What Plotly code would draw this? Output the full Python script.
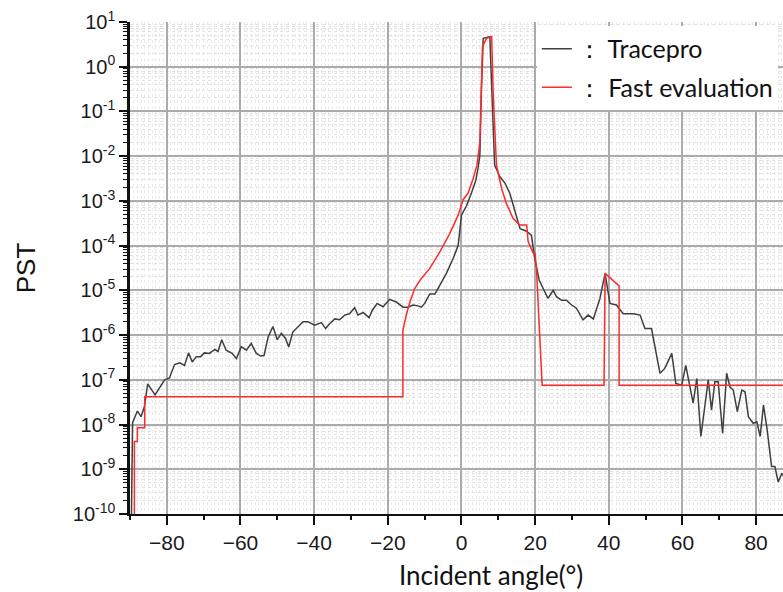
import plotly.graph_objects as go

# ---- Data ----
tracepro_angle = [
    -89.6, -89.3, -88.0, -87.0, -86.1, -85.2, -83.2, -80.6, -79.3, -77.9,
    -76.5, -75.2, -74.1, -73.1, -72.0, -70.8, -69.8, -68.4, -67.0, -66.1,
    -65.1, -63.9, -62.3, -61.1, -59.8, -58.4, -57.1, -55.7, -54.5, -53.6,
    -52.5, -51.2, -50.0, -48.9, -47.8, -46.9, -45.8, -44.4, -43.0, -41.7,
    -39.9, -38.0, -36.9, -35.8, -34.4, -33.1, -31.7, -30.4, -29.0, -28.1,
    -26.7, -25.1, -24.2, -22.9, -21.3, -19.5, -17.7, -15.9, -14.5, -13.2,
    -11.8, -10.9, -10.0, -8.6, -7.2, -5.9, -4.1, -2.3, -0.9, 0.0,
    1.4, 2.7, 3.9, 4.5, 5.0, 5.4, 5.9, 7.7, 8.2, 9.0,
    10.4, 11.8, 13.1, 14.5, 15.9, 17.7, 19.0, 19.9, 21.1, 22.6,
    23.5, 24.9, 25.8, 27.2, 28.5, 29.9, 31.2, 33.0, 34.4, 35.8,
    37.6, 39.0, 40.3, 42.1, 43.9, 46.6, 48.5, 49.8, 51.6, 53.9,
    55.2, 57.1, 58.2, 59.8, 60.9, 62.9, 63.9, 65.0, 67.0, 67.9,
    68.8, 69.7, 70.9, 72.0, 72.9, 73.8, 74.9, 76.1, 77.0, 77.9,
    79.2, 80.2, 81.1, 82.0, 83.0, 84.2, 85.1, 86.0, 87.0, 88.0,
]
tracepro_pst = [
    1e-10, 1.1e-8, 2.0e-8, 1.5e-8, 2.5e-8, 8.1e-8, 4.6e-8, 1.0e-7, 1.1e-7, 2.2e-7,
    2.4e-7, 2.1e-7, 4.0e-7, 2.5e-7, 3.3e-7, 3.3e-7, 4.0e-7, 3.9e-7, 4.8e-7, 4.3e-7,
    7.9e-7, 4.6e-7, 3.9e-7, 3.0e-7, 5.5e-7, 4.6e-7, 6.5e-7, 3.9e-7, 3.4e-7, 3.5e-7,
    9.1e-7, 1.55e-6, 7.9e-7, 1.1e-6, 8.5e-7, 5.4e-7, 1.17e-6, 1.55e-6, 2.0e-6, 2.0e-6,
    1.66e-6, 1.9e-6, 1.4e-6, 1.8e-6, 2.3e-6, 2.2e-6, 2.8e-6, 3.0e-6, 4.1e-6, 2.8e-6,
    3.2e-6, 2.45e-6, 3.6e-6, 5.1e-6, 4.3e-6, 6.3e-6, 5.5e-6, 4.2e-6, 4.2e-6, 4.7e-6,
    4.5e-6, 4.2e-6, 5.1e-6, 8.3e-6, 8.3e-6, 1.3e-5, 2.4e-5, 5.1e-5, 1.0e-4, 4.8e-4,
    7.9e-4, 1.5e-3, 2.9e-3, 5.4e-3, 1.05e-2, 0.28, 4.3, 4.7, 0.28, 6.3e-3,
    3.5e-3, 2.5e-3, 1.5e-3, 5.8e-4, 2.4e-4, 2.1e-4, 1.7e-4, 5.1e-5, 1.7e-5, 9.3e-6,
    6.6e-6, 1.0e-5, 7.2e-6, 6.0e-6, 6.0e-6, 4.7e-6, 4.0e-6, 2.2e-6, 2.8e-6, 2.3e-6,
    6.6e-6, 2.4e-5, 5.1e-6, 4.7e-6, 3.0e-6, 3.0e-6, 2.8e-6, 1.4e-6, 1.4e-6, 1.4e-7,
    1.8e-7, 3.9e-7, 8.3e-8, 7.6e-8, 2.1e-7, 3.0e-8, 1.07e-7, 5.4e-9, 1.0e-7, 2.1e-8,
    9.1e-8, 9.1e-8, 6.3e-9, 1.4e-7, 6.9e-8, 5.9e-8, 1.95e-8, 5.9e-8, 5.4e-8, 1.5e-8,
    1.07e-8, 1.15e-8, 5.4e-9, 2.75e-8, 7.6e-9, 1.15e-9, 1.15e-9, 5.2e-10, 8.1e-10, 6.0e-10,
]

fast_angle = [
    -88.8, -88.8, -88.0, -88.0, -86.0, -86.0, -15.9, -15.9, -14.9, -14.0,
    -12.7, -11.0, -8.6, -5.9, -3.2, -0.9, 0.4, 1.8, 3.2, 4.2,
    5.0, 5.4, 5.7, 6.8, 8.2, 8.6, 9.5, 10.9, 12.2, 14.0,
    15.8, 17.7, 18.1, 19.5, 20.0, 20.4, 20.8, 21.3, 21.9, 38.7,
    38.8, 39.0, 42.8, 42.8, 90.0,
]
fast_pst = [
    1e-11, 4.2e-9, 4.2e-9, 8.5e-9, 8.5e-9, 4.2e-8, 4.2e-8, 1.3e-6, 3.0e-6, 5.5e-6,
    1.1e-5, 1.8e-5, 3.1e-5, 7.2e-5, 1.86e-4, 4.8e-4, 1.05e-3, 1.5e-3, 3.2e-3, 6.3e-3,
    2.1e-2, 0.28, 2.8, 4.3, 4.7, 0.28, 6.3e-3, 1.9e-3, 8.7e-4, 4.1e-4,
    2.9e-4, 2.9e-4, 1.23e-4, 6.8e-5, 6.8e-5, 2.6e-5, 4.7e-6, 7.8e-7, 7.6e-8, 7.6e-8,
    1.0e-6, 2.4e-5, 1.26e-5, 7.6e-8, 7.6e-8,
]

x_tick_vals = [-80, -60, -40, -20, 0, 20, 40, 60, 80]
y_exponents = list(range(-10, 2))
y_tick_vals = [10.0 ** e for e in y_exponents]
y_tick_text = [f"10<sup>{e}</sup>" for e in y_exponents]

# ---- Figure ----
fig = go.Figure()
fig.add_trace(go.Scatter(
    x=tracepro_angle, y=tracepro_pst, mode="lines",
    name="： Tracepro", legendgroup="a",
    line=dict(color="#3f3f3f", width=1.5),
))
fig.add_trace(go.Scatter(
    x=fast_angle, y=fast_pst, mode="lines",
    name="： Fast evaluation", legendgroup="b",
    line=dict(color="#ff2a2a", width=1.5),
))
# invisible helper trace for the secondary (10-degree tick) axis
fig.add_trace(go.Scatter(
    x=[tracepro_angle[0]], y=[tracepro_pst[1]], xaxis="x2", mode="lines",
    showlegend=False, hoverinfo="skip", line=dict(color="rgba(0,0,0,0)"),
))

tick_font = dict(family="Liberation Sans, Arial, sans-serif", size=20, color="#1a1a1a")
x_range = [-90, 87.3]

fig.update_layout(
    width=783, height=592,
    margin=dict(l=130, r=0, t=22, b=78),
    paper_bgcolor="white", plot_bgcolor="white",
    showlegend=True,
    legend=dict(
        x=0.623, y=0.992, xanchor="left", yanchor="top",
        bgcolor="white", borderwidth=0,
        font=dict(family="Lato, sans-serif", size=25, color="#111111"),
        itemwidth=30, traceorder="grouped", tracegroupgap=3,
    ),
    xaxis=dict(
        range=x_range, tickvals=x_tick_vals,
        ticks="outside", ticklen=9, tickwidth=1.5, tickcolor="#111111",
        tickfont=dict(family="Liberation Sans, Arial, sans-serif", size=21, color="#1a1a1a"),
        showline=True, linecolor="#111111", linewidth=2,
        showgrid=True, gridcolor="#ababab", gridwidth=1.5,
        zeroline=False,
        minor=dict(dtick=1, ticks="", showgrid=True, gridcolor="#eaeaea",
                   griddash="dot", gridwidth=1),
    ),
    xaxis2=dict(
        range=x_range, overlaying="x", anchor="y", side="bottom",
        dtick=10, tick0=0, ticks="outside", ticklen=5, tickwidth=1.5,
        tickcolor="#111111", showticklabels=False, showgrid=False,
        showline=False, zeroline=False,
    ),
    yaxis=dict(
        type="log", range=[-10, 1],
        tickmode="array", tickvals=y_tick_vals, ticktext=y_tick_text,
        ticks="outside", ticklen=8, tickwidth=1.5, tickcolor="#111111",
        tickfont=tick_font,
        showline=True, linecolor="#111111", linewidth=2.5,
        showgrid=True, gridcolor="#ababab", gridwidth=1.5,
        zeroline=False,
        title=dict(text="PST", standoff=30,
                   font=dict(family="Liberation Sans, Arial, sans-serif", size=26, color="#111111")),
        minor=dict(dtick="D1", ticks="outside", ticklen=4, tickwidth=1,
                   tickcolor="#111111", showgrid=True, gridcolor="#e3e3e3",
                   griddash="dot", gridwidth=1),
    ),
    annotations=[dict(
        text="Incident angle(°)", xref="paper", yref="paper",
        x=0.553, y=-0.124, xanchor="center", yanchor="middle",
        showarrow=False,
        font=dict(family="Lato, sans-serif", size=26, color="#111111"),
    )],
)

fig.write_html("out.html")
